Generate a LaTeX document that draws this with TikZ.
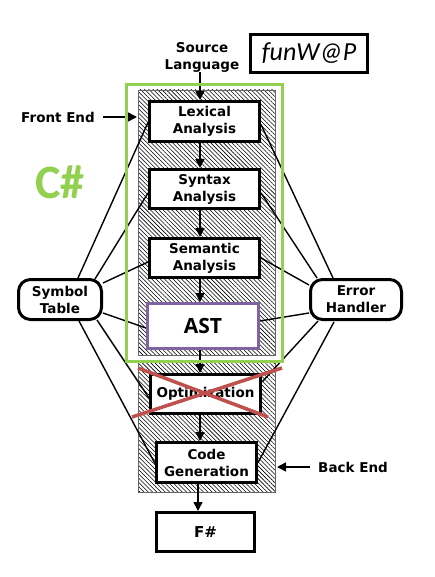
\documentclass[tikz,border=0pt]{standalone}
\usepackage{fontspec}
\setmainfont{DejaVu Sans}
\newfontfamily\carl{Carlito}
\newfontfamily\opens{Open Sans}
\usetikzlibrary{patterns.meta,arrows.meta,calc}
\definecolor{cgreen}{HTML}{92D050}
\definecolor{cpurple}{HTML}{8064A2}
\definecolor{cred}{HTML}{C0504D}
\pgfdeclarelayer{bg}
\pgfsetlayers{bg,main}
\begin{document}
\begin{tikzpicture}[x=1pt,y=-1pt,
  txt/.style={font=\bfseries\fontsize{13.5}{17}\selectfont, align=center, inner sep=0},
  stage/.style={draw, line width=3pt, fill=white, inner sep=0, align=center,
    font=\bfseries\fontsize{13.5}{17}\selectfont},
  side/.style={stage, rounded corners=12pt, minimum width=83pt, minimum height=40pt},
  hatch/.style={pattern={Lines[angle=-45,distance=3pt,line width=0.55pt]}, draw=black!60, line width=0.8pt},
  link/.style={line width=1.4pt},
  arr/.style={line width=1.6pt, -{Triangle[length=9pt,width=9pt]}},
  cross/.style={cred, line width=3.5pt}
]
\useasboundingbox (0,0) rectangle (435,577);

% stage boxes
\node[stage, minimum width=110pt, minimum height=40pt] (lex) at (204.5,121.5) {Lexical\\Analysis};
\node[stage, minimum width=110pt, minimum height=39pt] (syn) at (204.5,189) {Syntax\\Analysis};
\node[stage, minimum width=110pt, minimum height=39pt] (sem) at (204.5,258) {Semantic\\Analysis};
\node[stage, draw=cpurple, minimum width=111pt, minimum height=45pt,
      font=\opens\bfseries\fontsize{21}{24}\selectfont] (ast) at (203,326) {AST};
\node[stage, minimum width=110pt, minimum height=39pt] (opt) at (205.5,394) {Optimization};
\node[stage, minimum width=100pt, minimum height=40pt] (gen) at (206.5,462.5) {Code\\Generation};
\node[stage, minimum width=98pt, minimum height=39pt,
      font=\bfseries\fontsize{15}{18}\selectfont] (out) at (205.5,532) {F\#};

\node[side] (sym) at (60,299.5) {Symbol\\Table};
\node[side, minimum width=91pt] (err) at (356,299.5) {Error\\Handler};

\node[stage, minimum width=117pt, minimum height=38pt,
      font=\carl\itshape\fontsize{26}{30}\selectfont] (fw) at (309,53.5) {funW@P};

\node[txt] (src) at (202,57) {Source\\Language};
\node[txt] (fe) at (58,117) {Front End};
\node[txt] (be) at (353,467) {Back End};
\node[font=\carl\bfseries\fontsize{48}{50}\selectfont, text=cgreen, inner sep=0] (cs) at (60,182) {C\#};

\coordinate (ax) at (200,0);
\coordinate (ax2) at (198,0);

\begin{pgfonlayer}{bg}
  \draw[hatch] (138,90) rectangle (275,355);
  \draw[hatch] (138,362) rectangle (275,492);
  % symbol table links
  \draw[link] ($(sym.north)+(18,0)$) -- ([yshift=-1pt]lex.west);
  \draw[link] ($(sym.north)+(35,1)$) -- ([yshift=-4pt]syn.west);
  \draw[link] ($(sym.north east)+(0,5)$) -- ([yshift=-4pt]sem.west);
  \draw[link] ($(sym.south east)+(0,-8)$) -- ([yshift=-2pt]ast.west);
  \draw[link] ($(sym.south)+(37,-1)$) -- ([yshift=-4pt]opt.west);
  \draw[link] ($(sym.south)+(19,0)$) -- ([yshift=-1pt]gen.west);
  % error handler links
  \draw[link] ($(err.north)+(-23,0)$) -- ([yshift=-3pt]lex.east);
  \draw[link] ($(err.north)+(-39,0)$) -- ([yshift=-4pt]syn.east);
  \draw[link] ($(err.north west)+(0,7)$) -- (sem.east);
  \draw[link] ($(err.south west)+(0,-8)$) -- ([yshift=5pt]ast.east);
  \draw[link] ($(err.south)+(-38,0)$) -- ([yshift=12pt]opt.east);
  \draw[link] ($(err.south)+(-22,1)$) -- (gen.east);
\end{pgfonlayer}

% flow arrows
\draw[arr] (src.south -| ax) -- (lex.north -| ax);
\draw[arr] (lex.south -| ax) -- (syn.north -| ax);
\draw[arr] (syn.south -| ax) -- (sem.north -| ax);
\draw[arr] (sem.south -| ax) -- (ast.north -| ax);
\draw[arr] (ast.south -| ax) -- (opt.north -| ax);
\draw[arr] (opt.south -| ax) -- (gen.north -| ax);
\draw[arr] (gen.south -| ax2) -- (out.north -| ax2);

\draw[arr] (fe.east) ++(8,0) coordinate (fe1) (fe1) -- (137,117);
\draw[arr] (be.west) ++(-8,0) coordinate (be1) (be1) -- (277,467);

% green frame
\draw[cgreen, line width=3pt] (126.5,84.5) rectangle (282.5,361.5);

% red cross
\draw[cross] (138,368) -- (268,417);
\draw[cross] (282,368) -- (132,417);
\end{tikzpicture}
\end{document}
